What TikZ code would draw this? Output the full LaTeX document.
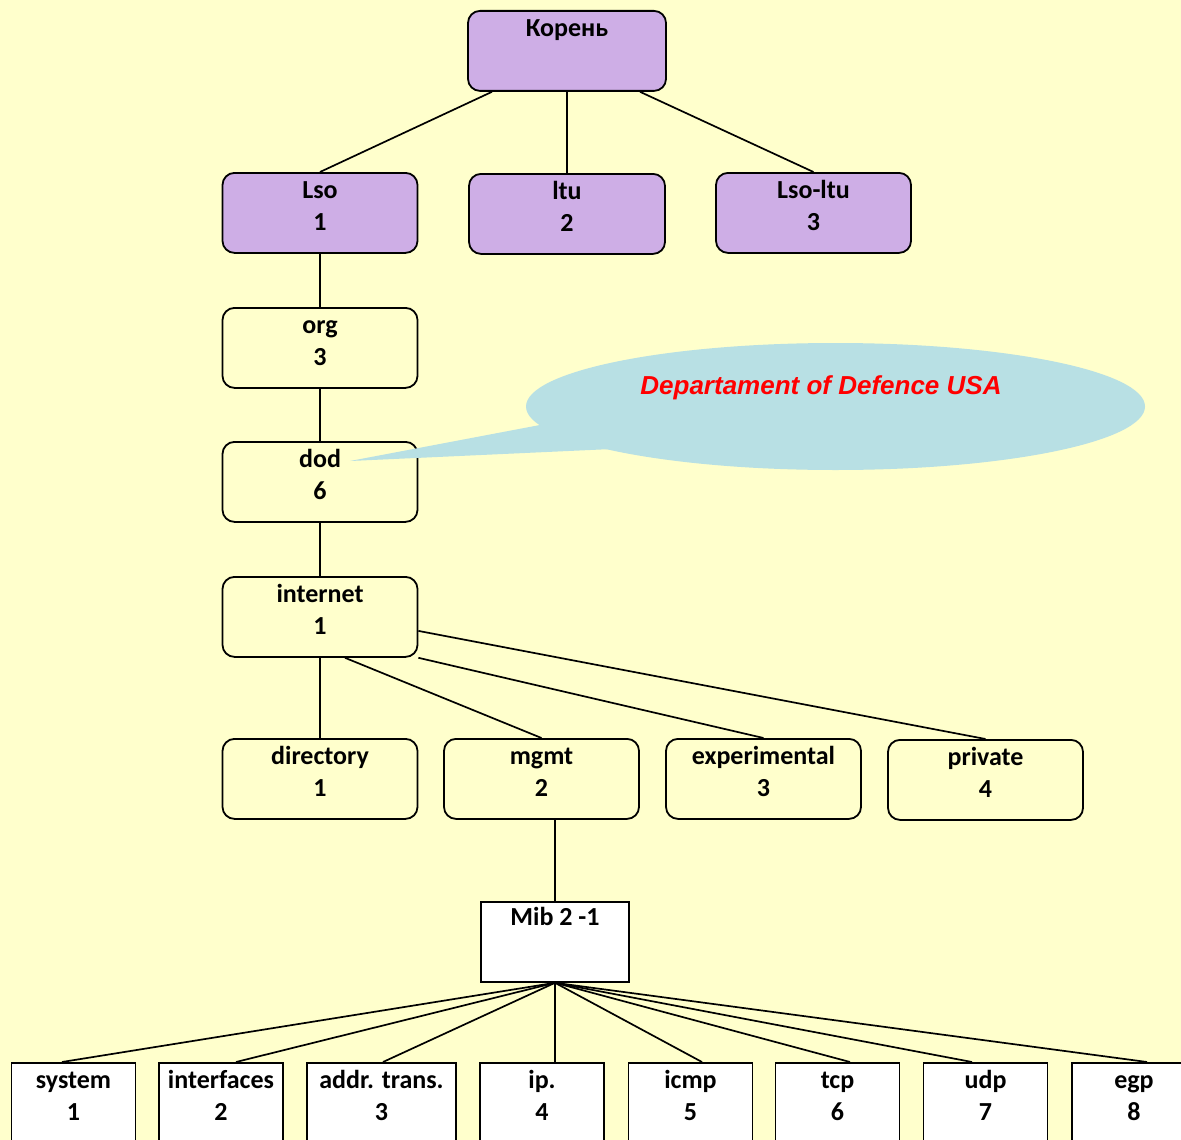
\documentclass[tikz,border=0pt]{standalone}
\usepackage{fontspec}
\setmainfont{Carlito}
\newfontfamily\notefont{Liberation Sans}
\usepackage{xcolor}
\definecolor{bgyellow}{RGB}{255,255,204}
\definecolor{rootlilac}{RGB}{206,174,230}
\definecolor{noteblue}{RGB}{184,224,228}
\newcommand{\oid}[2]{\begin{tabular}[t]{@{}c@{}}#1\\#2\end{tabular}}

\begin{document}
\begin{tikzpicture}[x=1pt, y=-1pt,
    oidbox/.style={draw, line width=1.8pt, rounded corners=12pt, minimum width=195pt,
      inner sep=0pt, anchor=north, text height=26pt, text depth=54pt,
      font=\fontsize{26}{32}\selectfont\bfseries},
    topbox/.style={oidbox, fill=rootlilac},
    leafbox/.style={oidbox, rounded corners=0pt, fill=white, minimum width=124pt},
    link/.style={line width=1.7pt}]
    \fill[bgyellow] (0,0) rectangle (1181,1140);
    \useasboundingbox (0,0) rectangle (1181,1140);

    \node[topbox, minimum width=198pt] (root) at (567,10) {Корень};
    \node[topbox] (lso) at (320,172) {\oid{Lso}{1}};
    \node[topbox, minimum width=196pt] (ltu) at (567,173) {\oid{ltu}{2}};
    \node[topbox] (lsoltu) at (813.5,172) {\oid{Lso-ltu}{3}};
    \node[oidbox] (org) at (320,307) {\oid{org}{3}};
    \node[oidbox] (dod) at (320,441) {\oid{dod}{6}};
    \node[oidbox] (internet) at (320,576) {\oid{internet}{1}};
    \node[oidbox] (directory) at (320,738) {\oid{directory}{1}};
    \node[oidbox] (mgmt) at (541.5,738) {\oid{mgmt}{2}};
    \node[oidbox] (experimental) at (763.5,738) {\oid{experimental}{3}};
    \node[oidbox] (private) at (985.5,739) {\oid{private}{4}};
    \node[leafbox, minimum width=148pt, text height=24pt, text depth=56pt] (mib) at (555,901) {Mib 2 -1};

    \draw[link] ([xshift=-75pt]root.south) -- (lso.north);
    \draw[link] (root.south) -- (ltu.north);
    \draw[link] ([xshift=73pt]root.south) -- (lsoltu.north);
    \draw[link] (lso) -- (org);
    \draw[link] (org) -- (dod);
    \draw[link] (dod) -- (internet);
    \draw[link] (internet) -- (directory);
    \draw[link] ([xshift=25pt]internet.south) -- (mgmt.north);
    \draw[link] (internet.south east) -- (experimental.north);
    \draw[link] ([yshift=-14pt]internet.east) -- (private.north);
    \draw[link] (mib.north |- mgmt.south) -- (mib.north);

    \foreach \name/\txt/\num/\x/\w/\s in {system/system/1/73.5/124/-11.5,
        interfaces/interfaces/2/221/124/15, addr/addr. trans./3/381.5/149/1.5,
        ip/ip./4/542/124/13, icmp/icmp/5/690.5/124/11.5, tcp/tcp/6/837.5/124/12.5,
        udp/udp/7/985.5/124/-13.5, egp/egp/8/1134/124/13} {
      \node[leafbox, minimum width=\w pt] (\name) at (\x,1062) {\oid{\txt}{\num}};
      \draw[link] (mib.south) -- ([xshift=\s pt]\name.north);
    }

    \fill[noteblue] (835.5,406.5) ellipse [x radius=309.5pt, y radius=63.5pt];
    \coordinate (notetip) at (350,461);
    \fill[noteblue] (notetip) -- (540,425) -- (612,449) -- cycle;
    \node[font=\notefont\bfseries\itshape\fontsize{26}{30}\selectfont, text=red] (note) at (821,388)
      {Departament of Defence USA};
\end{tikzpicture}
\end{document}
